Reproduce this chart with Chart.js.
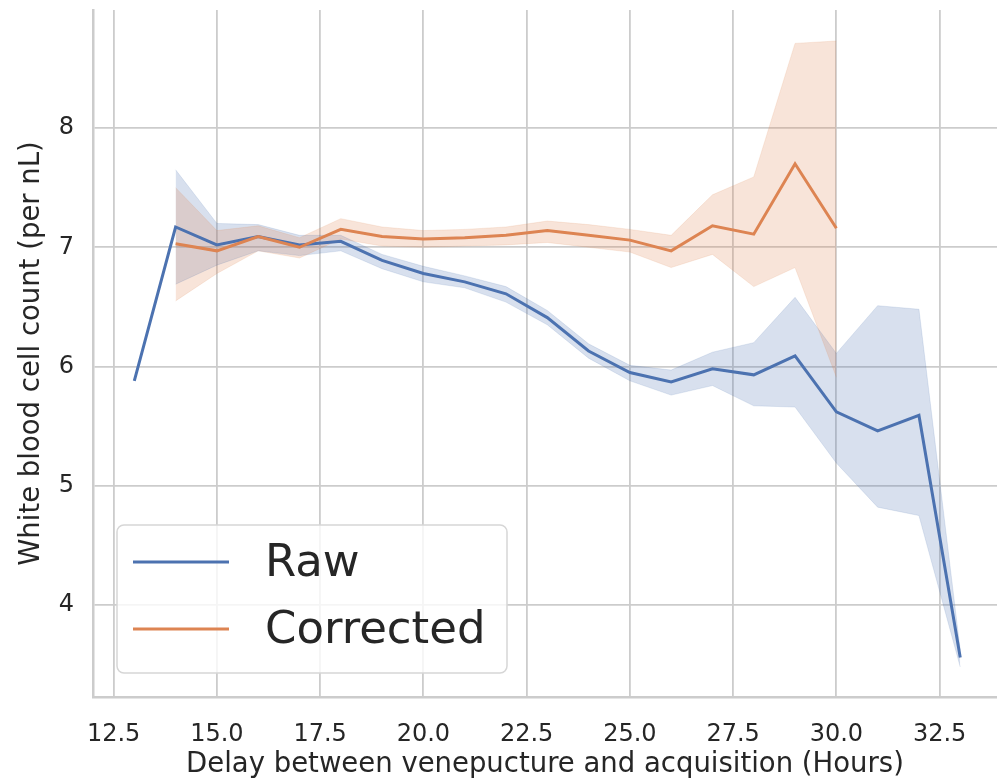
<!DOCTYPE html>
<html>
<head>
<meta charset="utf-8">
<script src="https://cdn.jsdelivr.net/npm/chart.js@4.4.1/dist/chart.umd.min.js"></script>
<style>
  html, body { margin: 0; padding: 0; background: #fff; overflow: hidden; }
  #chart { display: block; }
</style>
</head>
<body>
<canvas id="chart" width="997" height="782"></canvas>
<script>
// hours after venepuncture
const hoursRaw = [13, 14, 15, 16, 17, 18, 19, 20, 21, 22, 23, 24, 25, 26, 27, 28, 29, 30, 31, 32, 33];
const rawMean  = [5.88, 7.17, 7.02, 7.09, 7.02, 7.05, 6.89, 6.78, 6.71, 6.61, 6.41, 6.13, 5.95, 5.87, 5.98, 5.93, 6.09, 5.62, 5.46, 5.59, 3.56];

// 95% ci for raw (no band at 13h, single sample)
const hoursRawCi = [14, 15, 16, 17, 18, 19, 20, 21, 22, 23, 24, 25, 26, 27, 28, 29, 30, 31, 32, 33];
const rawLow  = [6.69, 6.85, 6.97, 6.93, 6.97, 6.82, 6.71, 6.66, 6.54, 6.35, 6.07, 5.88, 5.76, 5.84, 5.67, 5.66, 5.19, 4.82, 4.75, 3.48];
const rawHigh = [7.65, 7.20, 7.19, 7.10, 7.10, 6.94, 6.84, 6.76, 6.67, 6.47, 6.19, 6.01, 5.97, 6.12, 6.20, 6.58, 6.11, 6.51, 6.48, 3.62];

const hoursCorr = [14, 15, 16, 17, 18, 19, 20, 21, 22, 23, 24, 25, 26, 27, 28, 29, 30];
const corrMean = [7.03, 6.97, 7.09, 7.00, 7.15, 7.09, 7.07, 7.08, 7.10, 7.14, 7.10, 7.06, 6.97, 7.18, 7.11, 7.70, 7.16];
const corrLow  = [6.55, 6.78, 6.97, 6.91, 7.07, 7.01, 7.00, 7.01, 7.02, 7.04, 7.00, 6.96, 6.83, 6.94, 6.67, 6.83, 5.91];
const corrHigh = [7.50, 7.14, 7.18, 7.08, 7.24, 7.17, 7.14, 7.15, 7.17, 7.22, 7.19, 7.15, 7.10, 7.44, 7.59, 8.71, 8.73];

const xTicks = [12.5, 15, 17.5, 20, 22.5, 25, 27.5, 30, 32.5];
const yTicks = [4, 5, 6, 7, 8];

const BLUE = '#4c72b0';
const ORANGE = '#dd8452';
const FONT = "'DejaVu Sans', sans-serif";

function pts(xs, ys) {
  return xs.map((x, i) => ({x: x, y: ys[i]}));
}

// legend box drawn inside the plot, lower left (like the matplotlib one)
const boxLegend = {
  id: 'boxLegend',
  afterDraw(chart) {
    const ctx = chart.ctx;
    const items = [chart.data.datasets[0], chart.data.datasets[1]];
    ctx.save();
    ctx.beginPath();
    ctx.roundRect(117, 525, 390, 148, 7);
    ctx.fillStyle = 'rgba(255,255,255,0.8)';
    ctx.fill();
    ctx.lineWidth = 1.5;
    ctx.strokeStyle = '#d6d6d6';
    ctx.stroke();
    items.forEach((ds, i) => {
      const y = 562 + i * 67;
      ctx.beginPath();
      ctx.moveTo(133, y);
      ctx.lineTo(229, y);
      ctx.lineWidth = 3;
      ctx.strokeStyle = ds.borderColor;
      ctx.stroke();
      ctx.font = '45px ' + FONT;
      ctx.fillStyle = '#262626';
      ctx.textBaseline = 'middle';
      ctx.textAlign = 'left';
      ctx.fillText(ds.label, 265, y + 2);
    });
    ctx.restore();
  }
};

const myChart = new Chart(document.getElementById('chart'), {
  type: 'line',
  data: {
    datasets: [
      {label: 'Raw', data: pts(hoursRaw, rawMean), borderColor: BLUE, borderWidth: 3, pointRadius: 0, fill: false, order: 1},
      {label: 'Corrected', data: pts(hoursCorr, corrMean), borderColor: ORANGE, borderWidth: 3, pointRadius: 0, fill: false, order: 0},
      {label: 'raw_hi', data: pts(hoursRawCi, rawHigh), borderColor: 'rgba(76,114,176,0.15)', borderWidth: 1, pointRadius: 0, fill: false, order: 3},
      {label: 'raw_lo', data: pts(hoursRawCi, rawLow), borderColor: 'rgba(76,114,176,0.15)', borderWidth: 1, pointRadius: 0,
        fill: {target: 2}, backgroundColor: 'rgba(76,114,176,0.22)', order: 3},
      {label: 'corr_hi', data: pts(hoursCorr, corrHigh), borderColor: 'rgba(221,132,82,0.15)', borderWidth: 1, pointRadius: 0, fill: false, order: 2},
      {label: 'corr_lo', data: pts(hoursCorr, corrLow), borderColor: 'rgba(221,132,82,0.15)', borderWidth: 1, pointRadius: 0,
        fill: {target: 4}, backgroundColor: 'rgba(221,132,82,0.22)', order: 2}
    ]
  },
  options: {
    responsive: false,
    devicePixelRatio: 1,
    animation: false,
    layout: {padding: {top: 10, right: 0, bottom: 0, left: 0}},
    plugins: {
      legend: {display: false},
      tooltip: {enabled: false},
      filler: {drawTime: 'beforeDatasetsDraw'}
    },
    scales: {
      x: {
        type: 'linear',
        min: 12,
        max: 33.89,
        afterBuildTicks: (scale) => { scale.ticks = xTicks.map(v => ({value: v})); },
        afterFit: (scale) => { scale.height = 85; scale.paddingRight = 0; },
        grid: {color: '#cccccc', lineWidth: 1.8, drawTicks: false},
        border: {display: true, color: '#cccccc', width: 2.5},
        ticks: {
          padding: 23,
          color: '#262626',
          font: {family: FONT, size: 24},
          maxRotation: 0,
          callback: (v) => Number(v).toFixed(1)
        },
        title: {
          display: true,
          text: 'Delay between venepucture and acquisition (Hours)',
          color: '#262626',
          font: {family: FONT, size: 27.5},
          padding: {top: 0, bottom: 1}
        }
      },
      y: {
        type: 'linear',
        min: 3.228,
        max: 8.99,
        afterBuildTicks: (scale) => { scale.ticks = yTicks.map(v => ({value: v})); },
        afterFit: (scale) => { scale.width = 93; scale.paddingTop = 0; scale.paddingBottom = 0; },
        grid: {color: '#cccccc', lineWidth: 1.8, drawTicks: false},
        border: {display: true, color: '#cccccc', width: 2.5},
        ticks: {
          padding: 19,
          color: '#262626',
          font: {family: FONT, size: 24},
          callback: (v) => String(v)
        },
        title: {
          display: true,
          text: 'White blood cell count (per nL)',
          color: '#262626',
          font: {family: FONT, size: 27.5},
          padding: {top: 15, bottom: 0}
        }
      }
    }
  },
  plugins: [boxLegend]
});
</script>
</body>
</html>
